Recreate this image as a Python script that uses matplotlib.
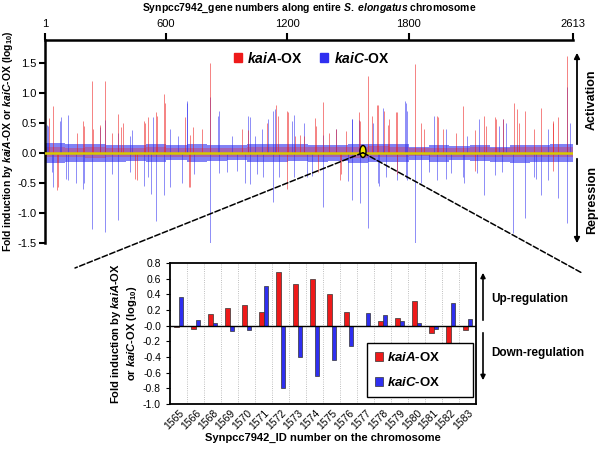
import matplotlib
matplotlib.use('Agg')
import matplotlib.pyplot as plt
import numpy as np
from matplotlib.patches import Ellipse, ConnectionPatch, Rectangle, FancyArrowPatch
from matplotlib.ticker import FormatStrFormatter

plt.rcParams['font.family'] = ['Liberation Sans', 'DejaVu Sans']
plt.rcParams['mathtext.fontset'] = 'custom'
plt.rcParams['mathtext.rm'] = 'Liberation Sans:bold'
plt.rcParams['mathtext.it'] = 'Liberation Sans:bold:italic'
plt.rcParams['mathtext.bf'] = 'Liberation Sans:bold'

# ---- genome-wide panel: spikes (gene number, log10 fold) ----
kaiA_up_genes = [21, 39, 158, 189, 196, 235, 240, 273, 296, 331, 362, 378, 389, 491, 496, 512, 549,
                 553, 590, 595, 692, 718, 735, 776, 817, 974, 1005, 1100, 1144, 1155, 1198, 1201,
                 1240, 1262, 1284, 1337, 1340, 1375, 1406, 1440, 1488, 1554, 1560, 1597, 1620,
                 1645, 1647, 1678, 1700, 1703, 1739, 1741, 1831, 1863, 1876, 1942, 1944, 1970,
                 2033, 2070, 2130, 2173, 2181, 2227, 2230, 2267, 2320, 2335, 2346, 2376, 2420,
                 2453, 2514, 2516, 2539, 2582]
kaiA_up_vals = [0.57, 0.78, 0.33, 0.52, 0.44, 1.2, 0.39, 0.46, 1.2, 0.33, 0.64, 0.42, 0.5, 0.52, 0.5, 0.59, 0.68,
                0.61, 0.98, 0.83, 0.6, 0.3, 0.42, 0.39, 1.49, 0.39, 0.38, 0.5, 0.79, 0.61, 0.7, 0.67,
                0.27, 0.3, 0.28, 0.57, 0.44, 0.85, 0.33, 0.4, 0.36, 0.67, 0.52, 1.27, 0.61,
                0.8, 0.8, 0.69, 0.46, 0.56, 0.67, 0.67, 1.48, 0.5, 0.39, 0.61, 0.6, 0.39,
                0.33, 0.77, 0.38, 0.61, 0.44, 0.59, 0.56, 0.56, 0.83, 0.72, 0.5, 0.69, 0.4,
                0.74, 0.52, 0.5, 0.6, 1.61]
kaiA_dn_genes = [58, 67, 446, 455, 715, 718, 1198, 1350, 1460, 1464, 1741, 2130, 2514]
kaiA_dn_vals = [-0.62, -0.58, -0.44, -0.46, -0.58, -0.57, -0.6, -0.33, -0.46, -0.36, -0.35, -0.3, -0.3]

kaiC_up_genes = [9, 14, 75, 80, 115, 273, 296, 362, 422, 430, 535, 619, 661, 703, 705, 817, 858, 863,
                 924, 1007, 1015, 1040, 1076, 1103, 1130, 1139, 1221, 1233, 1284, 1375, 1439,
                 1518, 1521, 1553, 1624, 1673, 1782, 1785, 1790, 1925, 1983, 2090, 2148, 2247,
                 2267, 2280, 2490, 2582, 2598]
kaiC_up_vals = [0.46, 0.44, 0.53, 0.6, 0.63, 0.42, 0.55, 0.32, 0.28, 0.38, 0.59, 0.39, 0.28, 0.82, 0.86, 0.92,
                0.61, 0.69, 0.28, 0.61, 0.59, 0.28, 0.39, 0.56, 0.69, 0.72, 0.53, 0.63, 0.49, 0.3, 0.39,
                0.56, 0.56, 0.55, 0.49, 0.75, 0.86, 0.83, 0.7, 0.61, 0.39, 0.27, 0.56, 0.44,
                0.56, 0.5, 0.39, 1.1, 0.49]
kaiC_dn_genes = [34, 39, 103, 115, 153, 189, 196, 235, 297, 331, 362, 420, 492, 512, 524, 550, 590, 620,
                 680, 740, 817, 863, 900, 950, 990, 1015, 1050, 1080, 1129, 1160, 1233, 1297, 1324,
                 1375, 1500, 1518, 1559, 1597, 1647, 1653, 1690, 1741, 1785, 1790, 1831, 1862, 1900,
                 1939, 1983, 2010, 2070, 2074, 2140, 2173, 2227, 2260, 2315, 2376, 2420, 2430, 2455,
                 2490, 2539, 2582]
kaiC_dn_vals = [-0.33, -0.57, -0.44, -0.45, -0.51, -0.61, -0.5, -1.28, -1.32, -0.36, -1.13, -0.33, -0.56,
                -0.4, -0.69, -1.14, -0.7, -0.57, -0.51, -0.36, -1.51, -0.34, -0.33, -0.3, -0.5, -0.52,
                -0.36, -0.4, -0.82, -0.4, -0.41, -0.4, -0.39, -0.9, -0.47, -0.79, -0.84, -1.26,
                -0.51, -0.56, -0.4, -0.46, -0.42, -0.46, -1.51, -0.5, -0.33, -0.46, -0.44, -0.34,
                -0.4, -0.5, -0.34, -0.7, -0.37, -0.33, -1.34, -1.09, -0.4, -0.44, -0.7, -0.46,
                -0.75, -1.17]

# dense background around zero, estimated per 100-gene block
block_start = [1, 101, 201, 301, 401, 501, 601, 701, 801, 901, 1001, 1101, 1201, 1301,
               1401, 1501, 1601, 1701, 1801, 1901, 2001, 2101, 2201, 2301, 2401, 2501, 2601]
kaiC_band_up = [0.16, 0.14, 0.14, 0.13, 0.13, 0.14, 0.12, 0.14, 0.13, 0.12, 0.14, 0.14, 0.14, 0.12,
                0.13, 0.14, 0.14, 0.14, 0.09, 0.13, 0.11, 0.13, 0.1, 0.12, 0.13, 0.14, 0.14]
kaiC_band_dn = [-0.17, -0.15, -0.16, -0.15, -0.14, -0.15, -0.13, -0.15, -0.14, -0.13, -0.15, -0.15,
                -0.14, -0.15, -0.14, -0.17, -0.15, -0.15, -0.12, -0.15, -0.13, -0.14, -0.16, -0.17,
                -0.15, -0.15, -0.15]
kaiA_band_up = [0.1, 0.08, 0.1, 0.08, 0.08, 0.09, 0.08, 0.08, 0.08, 0.08, 0.1, 0.09, 0.1, 0.1,
                0.1, 0.1, 0.11, 0.1, 0.07, 0.08, 0.08, 0.09, 0.08, 0.09, 0.1, 0.1, 0.1]
kaiA_band_dn = [-0.08, -0.08, -0.09, -0.08, -0.07, -0.08, -0.07, -0.08, -0.07, -0.07, -0.08, -0.08,
                -0.08, -0.08, -0.08, -0.09, -0.08, -0.08, -0.06, -0.08, -0.07, -0.08, -0.08, -0.08,
                -0.08, -0.08, -0.08]
top_ticks = [1, 600, 1200, 1800, 2613]

# ---- zoomed region ----
ids = ['1565', '1566', '1568', '1569', '1570', '1571', '1572', '1573', '1574',
       '1575', '1576', '1577', '1578', '1579', '1580', '1581', '1582', '1583']
kaiA_zoom = [-0.02, -0.04, 0.15, 0.22, 0.27, 0.17, 0.68, 0.53, 0.59,
             0.41, 0.18, 0.0, 0.06, 0.1, 0.32, -0.1, -0.24, -0.05]
kaiC_zoom = [0.37, 0.07, 0.03, -0.07, -0.05, 0.50, -0.80, -0.40, -0.64,
             -0.44, -0.26, 0.16, 0.13, 0.06, 0.04, -0.04, 0.29, 0.09]

RED = '#ee1a1a'
BLUE = '#2f2ff0'

W, H = 601, 450
fig = plt.figure(figsize=(6.01, 4.5), dpi=100)


def fx(px):
    return px / W


def fy(py):
    return 1 - py / H


# top panel
ax1 = fig.add_axes([fx(45), fy(242.7), fx(573) - fx(45), fy(40) - fy(242.7)])
ends = block_start[1:] + [2614]
for s, e, cu, cd, au, ad in zip(block_start, ends, kaiC_band_up, kaiC_band_dn, kaiA_band_up, kaiA_band_dn):
    ax1.fill_between([s, e], cd, cu, color=BLUE, alpha=0.6, lw=0)
    ax1.fill_between([s, e], ad, au, color=RED, alpha=0.3, lw=0)
ax1.vlines(kaiC_up_genes, 0, kaiC_up_vals, color=BLUE, lw=0.7, alpha=0.55)
ax1.vlines(kaiC_dn_genes, 0, kaiC_dn_vals, color=BLUE, lw=0.7, alpha=0.55)
ax1.vlines(kaiA_up_genes, 0, kaiA_up_vals, color=RED, lw=0.7, alpha=0.55)
ax1.vlines(kaiA_dn_genes, 0, kaiA_dn_vals, color=RED, lw=0.7, alpha=0.55)
ax1.axhline(0, color='#d8c800', lw=1.8, zorder=4)
ax1.add_patch(Ellipse((1574, 0.02), 30, 0.2, facecolor='#f2e600', edgecolor='black', lw=1, zorder=5))

ax1.set_xlim(1, 2613)
ax1.set_ylim(-1.5, 1.878)
ax1.set_yticks([-1.5, -1.0, -0.5, 0.0, 0.5, 1.0, 1.5])
ax1.yaxis.set_major_formatter(FormatStrFormatter('%.1f'))
ax1.xaxis.tick_top()
ax1.xaxis.set_label_position('top')
ax1.set_xticks(top_ticks)
ax1.tick_params(axis='x', direction='out', length=5, width=1.5, labelsize=8, pad=3)
ax1.tick_params(axis='y', direction='out', length=4, width=1.5, labelsize=8, pad=2)
for side in ['bottom', 'right']:
    ax1.spines[side].set_visible(False)
ax1.spines['top'].set_linewidth(1.8)
ax1.spines['left'].set_linewidth(1.8)
ax1.set_xlabel(r'Synpcc7942_gene numbers along entire $\mathit{S.\ elongatus}$ chromosome',
               fontsize=7.5, fontweight='bold', labelpad=6)
ax1.set_ylabel(r'Fold induction by $\mathit{kaiA}$-OX or $\mathit{kaiC}$-OX (log$_{10}$)',
               fontsize=7.5, fontweight='bold', labelpad=2)
h1 = [Rectangle((0, 0), 1, 1, color=RED), Rectangle((0, 0), 1, 1, color=BLUE)]
ax1.legend(h1, [r'$\mathit{kaiA}$-OX', r'$\mathit{kaiC}$-OX'], ncol=2, frameon=False,
           loc='center', bbox_to_anchor=(0.505, 0.91), handlelength=0.6,
           handleheight=0.6, handletextpad=0.4, columnspacing=1.2,
           prop={'weight': 'bold', 'size': 10})

# activation / repression arrows
fig.add_artist(FancyArrowPatch((fx(577), fy(147)), (fx(577), fy(50)), transform=fig.transFigure,
                               arrowstyle='-|>', mutation_scale=8, lw=1.3, color='black'))
fig.add_artist(FancyArrowPatch((fx(577), fy(156)), (fx(577), fy(246)), transform=fig.transFigure,
                               arrowstyle='-|>', mutation_scale=8, lw=1.3, color='black'))
fig.text(fx(592), fy(100), 'Activation', rotation=90, ha='center', va='center', fontsize=9, fontweight='bold')
fig.text(fx(592), fy(200), 'Repression', rotation=90, ha='center', va='center', fontsize=9, fontweight='bold')

# bottom panel
ax2 = fig.add_axes([fx(170), fy(404), fx(476) - fx(170), fy(263) - fy(404)])
x = np.arange(len(ids))
ax2.bar(x - 0.14, kaiA_zoom, 0.28, color=RED, edgecolor='#333333', lw=0.5, zorder=3, label=r'$\mathit{kaiA}$-OX')
ax2.bar(x + 0.14, kaiC_zoom, 0.28, color=BLUE, edgecolor='#333333', lw=0.5, zorder=3, label=r'$\mathit{kaiC}$-OX')
ax2.axhline(0, color='black', lw=1, zorder=4)
ax2.set_xlim(-0.5, len(ids) - 0.5)
ax2.set_ylim(-1.0, 0.8)
ax2.set_yticks(np.arange(-1.0, 0.81, 0.2))
ax2.yaxis.set_major_formatter(FormatStrFormatter('%.1f'))
ax2.set_xticks(x)
ax2.set_xticklabels(ids, rotation=45, ha='right', rotation_mode='anchor', fontsize=7.5)
ax2.set_xticks(x[:-1] + 0.5, minor=True)
ax2.grid(axis='x', which='minor', color='#aaaaaa', lw=0.6, ls=':')
ax2.tick_params(axis='x', which='both', length=0, pad=3)
ax2.tick_params(axis='y', labelsize=7.5, direction='out', length=3)
for sp in ax2.spines.values():
    sp.set_linewidth(1.3)
ax2.set_xlabel('Synpcc7942_ID number on the chromosome', fontsize=8, fontweight='bold', labelpad=1)
ax2.set_ylabel('Fold induction by $\\mathit{kaiA}$-OX\nor $\\mathit{kaiC}$-OX (log$_{10}$)',
               fontsize=8, fontweight='bold', labelpad=3)
leg = ax2.legend(loc='lower left', bbox_to_anchor=(0.645, 0.05, 0.345, 0.32), mode='expand',
                 borderaxespad=0, fancybox=False, edgecolor='black',
                 prop={'weight': 'bold', 'size': 9.5}, handlelength=0.6,
                 handleheight=0.6, handletextpad=0.3, labelspacing=0.9, borderpad=0.6, framealpha=1)
leg.set_zorder(6)

fig.add_artist(FancyArrowPatch((fx(483), fy(323)), (fx(483), fy(270)), transform=fig.transFigure,
                               arrowstyle='-|>', mutation_scale=7, lw=1.2, color='black'))
fig.add_artist(FancyArrowPatch((fx(483), fy(330)), (fx(483), fy(383)), transform=fig.transFigure,
                               arrowstyle='-|>', mutation_scale=7, lw=1.2, color='black'))
fig.text(fx(491), fy(299), 'Up-regulation', ha='left', va='center', fontsize=8.5, fontweight='bold')
fig.text(fx(491), fy(353), 'Down-regulation', ha='left', va='center', fontsize=8.5, fontweight='bold')

# dashed zoom lines
for end in [(fx(75), fy(268)), (fx(582), fy(273))]:
    con = ConnectionPatch(xyA=(1574, 0.0), coordsA=ax1.transData, xyB=end, coordsB=fig.transFigure,
                          ls='--', lw=1.1, color='black')
    fig.add_artist(con)

fig.savefig('out.png', dpi=100)
